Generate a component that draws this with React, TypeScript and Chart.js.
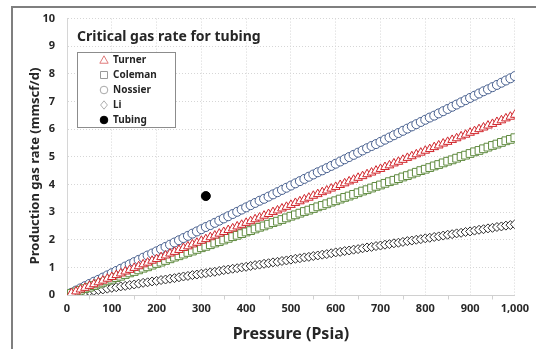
import { useEffect, useRef } from 'react';
import { Chart, registerables } from 'chart.js';

Chart.register(...registerables);

const pressure = [
  10, 20, 30, 40, 50, 60, 70, 80, 90, 100,
  110, 120, 130, 140, 150, 160, 170, 180, 190, 200,
  210, 220, 230, 240, 250, 260, 270, 280, 290, 300,
  310, 320, 330, 340, 350, 360, 370, 380, 390, 400,
  410, 420, 430, 440, 450, 460, 470, 480, 490, 500,
  510, 520, 530, 540, 550, 560, 570, 580, 590, 600,
  610, 620, 630, 640, 650, 660, 670, 680, 690, 700,
  710, 720, 730, 740, 750, 760, 770, 780, 790, 800,
  810, 820, 830, 840, 850, 860, 870, 880, 890, 900,
  910, 920, 930, 940, 950, 960, 970, 980, 990, 1000,
];

const turner = [
  0.07, 0.13, 0.20, 0.26, 0.33, 0.39, 0.46, 0.52, 0.59, 0.65,
  0.72, 0.78, 0.85, 0.91, 0.98, 1.04, 1.11, 1.17, 1.24, 1.30,
  1.37, 1.43, 1.50, 1.56, 1.63, 1.70, 1.76, 1.83, 1.89, 1.96,
  2.02, 2.09, 2.15, 2.22, 2.28, 2.35, 2.41, 2.48, 2.54, 2.61,
  2.67, 2.74, 2.80, 2.87, 2.93, 3.00, 3.06, 3.13, 3.19, 3.26,
  3.33, 3.39, 3.46, 3.52, 3.59, 3.65, 3.72, 3.78, 3.85, 3.91,
  3.98, 4.04, 4.11, 4.17, 4.24, 4.30, 4.37, 4.43, 4.50, 4.56,
  4.63, 4.69, 4.76, 4.82, 4.89, 4.96, 5.02, 5.09, 5.15, 5.22,
  5.28, 5.35, 5.41, 5.48, 5.54, 5.61, 5.67, 5.74, 5.80, 5.87,
  5.93, 6.00, 6.06, 6.13, 6.19, 6.26, 6.32, 6.39, 6.45, 6.52,
];

const coleman = [
  0.06, 0.11, 0.17, 0.23, 0.28, 0.34, 0.40, 0.46, 0.51, 0.57,
  0.63, 0.68, 0.74, 0.80, 0.85, 0.91, 0.97, 1.02, 1.08, 1.14,
  1.19, 1.25, 1.31, 1.37, 1.42, 1.48, 1.54, 1.59, 1.65, 1.71,
  1.76, 1.82, 1.88, 1.93, 1.99, 2.05, 2.11, 2.16, 2.22, 2.28,
  2.33, 2.39, 2.45, 2.50, 2.56, 2.62, 2.67, 2.73, 2.79, 2.85,
  2.90, 2.96, 3.02, 3.07, 3.13, 3.19, 3.24, 3.30, 3.36, 3.41,
  3.47, 3.53, 3.58, 3.64, 3.70, 3.76, 3.81, 3.87, 3.93, 3.98,
  4.04, 4.10, 4.15, 4.21, 4.27, 4.32, 4.38, 4.44, 4.50, 4.55,
  4.61, 4.67, 4.72, 4.78, 4.84, 4.89, 4.95, 5.01, 5.06, 5.12,
  5.18, 5.23, 5.29, 5.35, 5.41, 5.46, 5.52, 5.58, 5.63, 5.69,
];

const nossier = [
  0.08, 0.16, 0.24, 0.32, 0.40, 0.48, 0.55, 0.63, 0.71, 0.79,
  0.87, 0.95, 1.03, 1.11, 1.19, 1.27, 1.35, 1.43, 1.50, 1.58,
  1.66, 1.74, 1.82, 1.90, 1.98, 2.06, 2.14, 2.22, 2.30, 2.38,
  2.46, 2.53, 2.61, 2.69, 2.77, 2.85, 2.93, 3.01, 3.09, 3.17,
  3.25, 3.33, 3.41, 3.48, 3.56, 3.64, 3.72, 3.80, 3.88, 3.96,
  4.04, 4.12, 4.20, 4.28, 4.36, 4.44, 4.51, 4.59, 4.67, 4.75,
  4.83, 4.91, 4.99, 5.07, 5.15, 5.23, 5.31, 5.39, 5.46, 5.54,
  5.62, 5.70, 5.78, 5.86, 5.94, 6.02, 6.10, 6.18, 6.26, 6.34,
  6.42, 6.49, 6.57, 6.65, 6.73, 6.81, 6.89, 6.97, 7.05, 7.13,
  7.21, 7.29, 7.37, 7.44, 7.52, 7.60, 7.68, 7.76, 7.84, 7.92,
];

const li = [
  0.03, 0.05, 0.08, 0.10, 0.13, 0.15, 0.18, 0.20, 0.23, 0.26,
  0.28, 0.31, 0.33, 0.36, 0.38, 0.41, 0.44, 0.46, 0.49, 0.51,
  0.54, 0.56, 0.59, 0.61, 0.64, 0.67, 0.69, 0.72, 0.74, 0.77,
  0.79, 0.82, 0.84, 0.87, 0.90, 0.92, 0.95, 0.97, 1.00, 1.02,
  1.05, 1.08, 1.10, 1.13, 1.15, 1.18, 1.20, 1.23, 1.25, 1.28,
  1.31, 1.33, 1.36, 1.38, 1.41, 1.43, 1.46, 1.48, 1.51, 1.54,
  1.56, 1.59, 1.61, 1.64, 1.66, 1.69, 1.72, 1.74, 1.77, 1.79,
  1.82, 1.84, 1.87, 1.89, 1.92, 1.95, 1.97, 2.00, 2.02, 2.05,
  2.07, 2.10, 2.12, 2.15, 2.18, 2.20, 2.23, 2.25, 2.28, 2.30,
  2.33, 2.36, 2.38, 2.41, 2.43, 2.46, 2.48, 2.51, 2.53, 2.56,
];

const tubingPressure = [310];
const tubingRate = [3.58];

const minorXTicks = [50, 150, 250, 350, 450, 550, 650, 750, 850, 950];

const seriesNames = ['Turner', 'Coleman', 'Nossier', 'Li', 'Tubing'];
const chartTitle = 'Critical gas rate for tubing';
const xTitle = 'Pressure (Psia)';
const yTitle = 'Production gas rate (mmscf/d)';

const FONT = '"Noto Sans", "Open Sans", sans-serif';
const TEXT = '#262626';

const toPts = (xs: number[], ys: number[]) => xs.map((x, i) => ({ x, y: ys[i] }));

const legendMarkers = [
  { shape: 'triangle', stroke: '#e07a7a', fill: '#ffffff' },
  { shape: 'rect', stroke: '#9a9a9a', fill: '#ffffff' },
  { shape: 'circle', stroke: '#a8a8a8', fill: '#ffffff' },
  { shape: 'diamond', stroke: '#b0b0b0', fill: '#ffffff' },
  { shape: 'circle', stroke: '#000000', fill: '#000000' },
];

function drawMarker(ctx: CanvasRenderingContext2D, shape: string, x: number, y: number, r: number) {
  ctx.beginPath();
  if (shape === 'circle') {
    ctx.arc(x, y, r, 0, Math.PI * 2);
  } else if (shape === 'rect') {
    ctx.rect(x - r, y - r, 2 * r, 2 * r);
  } else if (shape === 'triangle') {
    ctx.moveTo(x, y - r * 1.1);
    ctx.lineTo(x + r * 1.1, y + r * 0.85);
    ctx.lineTo(x - r * 1.1, y + r * 0.85);
    ctx.closePath();
  } else {
    ctx.moveTo(x, y - r * 1.1);
    ctx.lineTo(x + r * 0.9, y);
    ctx.lineTo(x, y + r * 1.1);
    ctx.lineTo(x - r * 0.9, y);
    ctx.closePath();
  }
  ctx.fill();
  ctx.stroke();
}

const decor = {
  id: 'decor',
  beforeDraw(chart: any) {
    const { ctx, width, height } = chart;
    ctx.save();
    ctx.fillStyle = '#ffffff';
    ctx.fillRect(0, 0, width, height);
    ctx.restore();
  },
  beforeDatasetsDraw(chart: any) {
    const { ctx, chartArea } = chart;
    const xs = chart.scales.x;
    ctx.save();
    ctx.strokeStyle = '#d0d0d0';
    ctx.lineWidth = 1;
    ctx.beginPath();
    const yb = Math.round(chartArea.bottom) + 0.5;
    ctx.moveTo(chartArea.left, yb);
    ctx.lineTo(chartArea.right, yb);
    minorXTicks.forEach((v) => {
      const px = Math.round(xs.getPixelForValue(v)) + 0.5;
      ctx.moveTo(px, yb);
      ctx.lineTo(px, yb + 4);
    });
    ctx.stroke();
    ctx.restore();
  },
  afterDraw(chart: any) {
    const { ctx, chartArea } = chart;
    ctx.save();
    // outer frame
    ctx.strokeStyle = '#7f7f7f';
    ctx.lineWidth = 2;
    ctx.beginPath();
    ctx.moveTo(12, 349);
    ctx.lineTo(12, 7);
    ctx.lineTo(536, 7);
    ctx.stroke();

    // axis titles
    ctx.fillStyle = TEXT;
    ctx.font = `bold 16px ${FONT}`;
    ctx.textAlign = 'center';
    ctx.textBaseline = 'middle';
    ctx.fillText(xTitle, (chartArea.left + chartArea.right) / 2, 334);
    ctx.save();
    ctx.translate(35, 166);
    ctx.rotate(-Math.PI / 2);
    ctx.font = `bold 13px ${FONT}`;
    ctx.fillText(yTitle, 0, 0);
    ctx.restore();

    // inner title
    ctx.textAlign = 'left';
    ctx.font = `bold 14px ${FONT}`;
    ctx.fillText(chartTitle, 77, 37);

    // legend box
    ctx.fillStyle = '#ffffff';
    ctx.fillRect(77.5, 52.5, 98, 75);
    ctx.strokeStyle = '#8c8c8c';
    ctx.lineWidth = 1;
    ctx.strokeRect(77.5, 52.5, 98, 75);

    ctx.font = `bold 10px ${FONT}`;
    seriesNames.forEach((name, i) => {
      const y = 60 + 15 * i;
      const m = legendMarkers[i];
      ctx.strokeStyle = m.stroke;
      ctx.fillStyle = m.fill;
      ctx.lineWidth = 1;
      drawMarker(ctx, m.shape, 104, y, m.shape === 'rect' ? 3.5 : 3.8);
      ctx.fillStyle = TEXT;
      ctx.textAlign = 'left';
      ctx.textBaseline = 'middle';
      ctx.fillText(name, 113, y + 0.5);
    });
    ctx.restore();
  },
};

export default function App() {
  const ref = useRef<HTMLCanvasElement | null>(null);

  useEffect(() => {
    if (!ref.current) return;
    const grid = {
      color: '#d6d6d6',
      lineWidth: 1,
      drawTicks: false,
    };
    const border = { display: true, color: '#d6d6d6', dash: [1, 2] };
    const chart = new Chart(ref.current, {
      type: 'scatter',
      data: {
        datasets: [
          {
            label: seriesNames[0],
            data: toPts(pressure, turner),
            pointStyle: 'triangle',
            radius: 5,
            borderColor: '#d1262c',
            backgroundColor: '#ffffff',
            borderWidth: 1,
            showLine: false,
          },
          {
            label: seriesNames[1],
            data: toPts(pressure, coleman),
            pointStyle: 'rect',
            radius: 5.5,
            borderColor: '#5f8a3f',
            backgroundColor: '#ffffff',
            borderWidth: 1,
            showLine: false,
          },
          {
            label: seriesNames[2],
            data: toPts(pressure, nossier),
            pointStyle: 'circle',
            radius: 4.5,
            borderColor: '#48608f',
            backgroundColor: '#ffffff',
            borderWidth: 1,
            showLine: false,
          },
          {
            label: seriesNames[3],
            data: toPts(pressure, li),
            pointStyle: 'rectRot',
            radius: 4.5,
            borderColor: '#2e2e2e',
            backgroundColor: '#ffffff',
            borderWidth: 1,
            showLine: false,
          },
          {
            label: seriesNames[4],
            data: toPts(tubingPressure, tubingRate),
            pointStyle: 'circle',
            radius: 4.5,
            borderColor: '#000000',
            backgroundColor: '#000000',
            borderWidth: 1,
            showLine: false,
          },
        ],
      },
      options: {
        responsive: false,
        animation: false,
        layout: { padding: { top: 18, right: 21, left: 0, bottom: 0 } },
        plugins: {
          legend: { display: false },
          tooltip: { enabled: false },
          title: { display: false },
        },
        scales: {
          x: {
            type: 'linear',
            min: 0,
            max: 1000,
            ticks: {
              stepSize: 100,
              padding: 7,
              color: TEXT,
              font: { family: FONT, size: 11, weight: 'bold' },
              maxRotation: 0,
            },
            grid: grid as any,
            border: border as any,
            afterFit: (s: any) => { s.height = 54; },
          },
          y: {
            type: 'linear',
            min: 0,
            max: 10,
            ticks: {
              stepSize: 1,
              padding: 12,
              color: TEXT,
              font: { family: FONT, size: 11, weight: 'bold' },
            },
            grid: grid as any,
            border: border as any,
            afterFit: (s: any) => { s.width = 67; },
          },
        },
        elements: { point: { hoverRadius: 4.5 } },
      } as any,
      plugins: [decor],
    });
    return () => chart.destroy();
  }, []);

  return (
    <div style={{ position: 'fixed', left: 0, top: 0, width: 536, height: 349, background: '#fff' }}>
      <canvas ref={ref} width={536} height={349} style={{ display: 'block' }} />
    </div>
  );
}
